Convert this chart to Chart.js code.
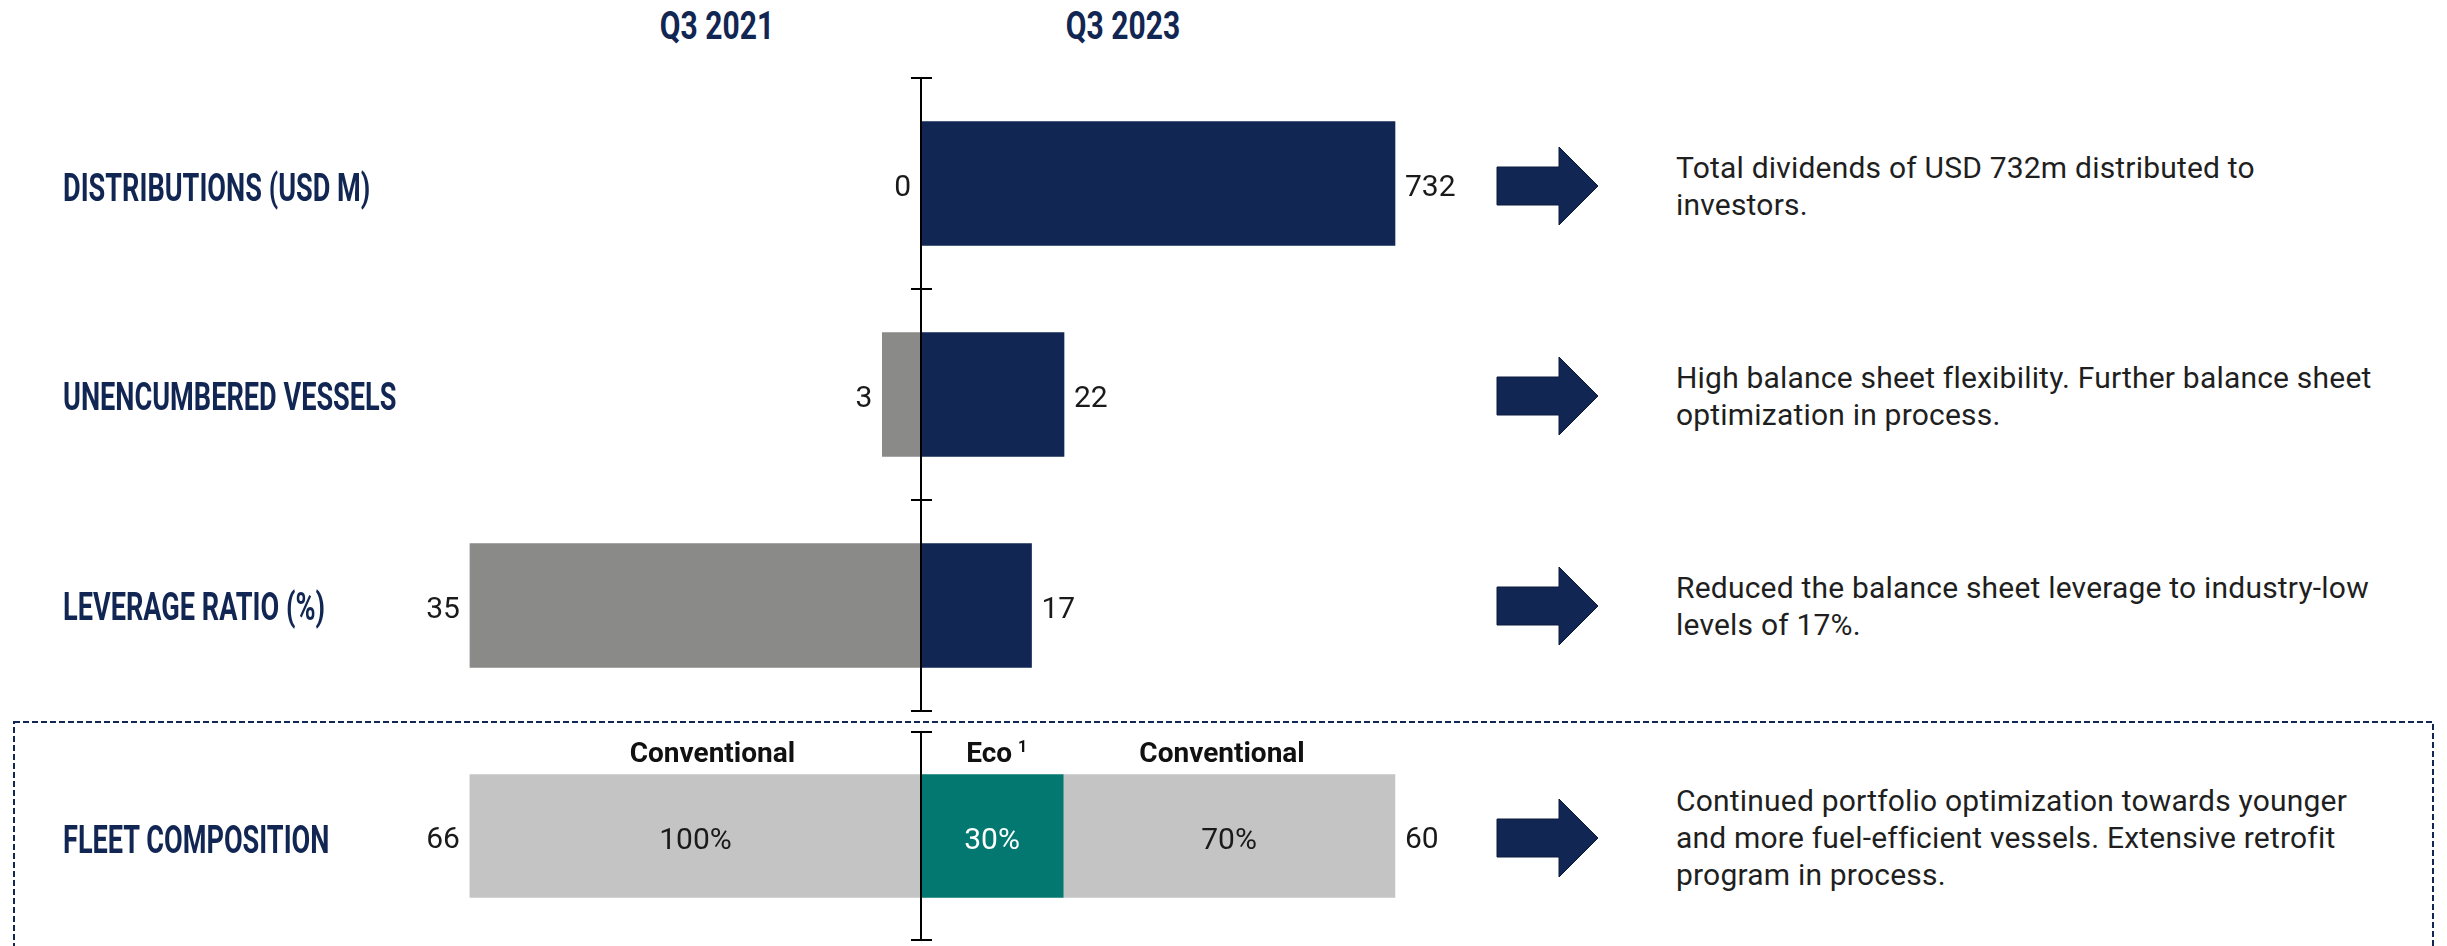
<!DOCTYPE html>
<html>
<head>
<meta charset="utf-8">
<title>Key figures Q3 2021 vs Q3 2023</title>
<script src="https://cdn.jsdelivr.net/npm/chart.js@4.4.1/dist/chart.umd.min.js"></script>
<style>
    html, body {
        margin: 0;
        padding: 0;
        background: #fff;
    }
    #page {
        position: relative;
        width: 2447px;
        height: 946px;
        overflow: hidden;
        font-family: Roboto, sans-serif;
    }
    .head {
        position: absolute;
        top: 7px;
        width: 200px;
        margin-left: -100px;
        text-align: center;
        font: 700 39px/39px Roboto, sans-serif;
        color: #112652;
        transform: scaleX(0.77);
    }
    .rowLabel {
        position: absolute;
        left: 63px;
        font: 700 38px/38px Roboto, sans-serif;
        color: #112652;
        white-space: nowrap;
        transform: scaleX(0.714);
        transform-origin: 0 0;
    }
    .desc {
        position: absolute;
        left: 1676px;
        font: 400 30px/37px Roboto, sans-serif;
        letter-spacing: 0.2px;
        color: #1f1f1f;
        white-space: nowrap;
    }
    canvas.row {
        position: absolute;
        left: 321px;
    }
    #overlay {
        position: absolute;
        left: 0;
        top: 0;
    }
</style>
</head>
<body>
<div id="page">
    <svg id="overlay" width="2447" height="946"></svg>
    <canvas class="row" id="row0" width="1200" height="217" style="top:75px;width:1200px;height:217px"></canvas>
    <canvas class="row" id="row1" width="1200" height="217" style="top:286px;width:1200px;height:217px"></canvas>
    <canvas class="row" id="row2" width="1200" height="217" style="top:497px;width:1200px;height:217px"></canvas>
    <canvas class="row" id="row3" width="1200" height="214" style="top:729px;width:1200px;height:214px"></canvas>
</div>
<script>
// ---- data ----
const periods = ["Q3 2021", "Q3 2023"];
const rowLabels = ["DISTRIBUTIONS (USD M)", "UNENCUMBERED VESSELS", "LEVERAGE RATIO (%)", "FLEET COMPOSITION"];
const valuesQ3_2021 = [0, 3, 35, 66];
const valuesQ3_2023 = [732, 22, 17, 60];

// fleet composition split, in % of the fleet
const fleetSegments2021 = ["Conventional"];
const fleetShare2021 = [100];
const fleetSegments2023 = ["Eco", "Conventional"];
const fleetShare2023 = [30, 70];

const comments = [
    ["Total dividends of USD 732m distributed to", "investors."],
    ["High balance sheet flexibility. Further balance sheet", "optimization in process."],
    ["Reduced the balance sheet leverage to industry-low", "levels of 17%."],
    ["Continued portfolio optimization towards younger", "and more fuel-efficient vessels. Extensive retrofit", "program in process."]
];

// ---- colours / layout ----
const NAVY = "#112652";
const GREY = "#8a8a89";
const LIGHT_GREY = "#c4c4c4";
const TEAL = "#037870";

const headX = [717, 1123];
const labelTops = [169, 378, 588, 821];
const descTops = [149, 359, 569, 782];
const arrowY = [186, 396, 606, 838];

// half-width axis ranges for each row (left side reversed)
const axisRanges = [
    { left: 46.56, right: 926.6 },
    { left: 46.56, right: 92.3 },
    { left: 46.56, right: 92.3 },
    { left: 133.0, right: 126.6 }
];

Chart.defaults.font.family = "Roboto";

const page = document.getElementById("page");

periods.forEach((p, i) => {
    const d = document.createElement("div");
    d.className = "head";
    d.style.left = headX[i] + "px";
    d.textContent = p;
    page.appendChild(d);
});

rowLabels.forEach((t, i) => {
    const d = document.createElement("div");
    d.className = "rowLabel";
    d.style.top = labelTops[i] + "px";
    d.textContent = t;
    page.appendChild(d);
});

comments.forEach((lines, i) => {
    const d = document.createElement("div");
    d.className = "desc";
    d.style.top = descTops[i] + "px";
    d.innerHTML = lines.join("<br>");
    page.appendChild(d);
});

// arrows and dashed box
const svgNS = "http://www.w3.org/2000/svg";
const overlay = document.getElementById("overlay");
arrowY.forEach((cy) => {
    const poly = document.createElementNS(svgNS, "polygon");
    const pts = [
        [1497, cy - 19], [1559, cy - 19], [1559, cy - 39], [1598, cy],
        [1559, cy + 39], [1559, cy + 19], [1497, cy + 19]
    ];
    poly.setAttribute("points", pts.map((p) => p.join(",")).join(" "));
    poly.setAttribute("fill", NAVY);
    poly.setAttribute("stroke", "#0b1a3c");
    poly.setAttribute("stroke-width", "1");
    overlay.appendChild(poly);
});
const box = document.createElementNS(svgNS, "rect");
box.setAttribute("x", 14);
box.setAttribute("y", 722);
box.setAttribute("width", 2419);
box.setAttribute("height", 300);
box.setAttribute("fill", "none");
box.setAttribute("stroke", NAVY);
box.setAttribute("stroke-width", 2);
box.setAttribute("stroke-dasharray", "6 3");
overlay.appendChild(box);

// axis line, ticks and labels for one row
const rowDecor = {
    id: "rowDecor",
    afterDatasetsDraw(chart, args, opts) {
        const ctx = chart.ctx;
        const area = chart.chartArea;
        const x0 = chart.scales.xr.getPixelForValue(0);

        ctx.save();
        ctx.strokeStyle = "#000";
        ctx.lineWidth = 2;
        ctx.beginPath();
        ctx.moveTo(x0, area.top);
        ctx.lineTo(x0, area.bottom);
        ctx.moveTo(x0 - 10, area.top);
        ctx.lineTo(x0 + 11, area.top);
        if (opts.bottomTick) {
            ctx.moveTo(x0 - 10, area.bottom);
            ctx.lineTo(x0 + 11, area.bottom);
        }
        ctx.stroke();

        const metas = chart.data.datasets.map((ds, i) => chart.getDatasetMeta(i).data[0]);
        const leftBar = metas[0];
        const rightBar = metas[metas.length - 1];

        ctx.font = "30px Roboto";
        ctx.fillStyle = "#1a1a1a";
        ctx.textBaseline = "alphabetic";
        ctx.textAlign = "right";
        ctx.fillText(String(opts.leftText), leftBar.x - 10, leftBar.y + 12);
        ctx.textAlign = "left";
        ctx.fillText(String(opts.rightText), rightBar.x + 10, rightBar.y + 12);

        if (opts.segments) {
            chart.data.datasets.forEach((ds, i) => {
                const el = metas[i];
                const cx = (el.x + el.base) / 2;
                const top = el.y - el.height / 2;
                ctx.textAlign = "center";
                ctx.font = "30px Roboto";
                ctx.fillStyle = ds.backgroundColor === TEAL ? "#fff" : "#1a1a1a";
                ctx.fillText(ds.data[0] + "%", cx, el.y + 13);

                // segment name sits a little off-centre in the original slide
                const hx = cx + (ds.headShift || 0);
                ctx.font = "bold 28px Roboto";
                ctx.fillStyle = "#111";
                ctx.fillText(ds.label, hx, top - 13);
                if (ds.footnote) {
                    const w = ctx.measureText(ds.label).width;
                    ctx.font = "bold 16px Roboto";
                    ctx.textAlign = "left";
                    ctx.fillText(ds.footnote, hx + w / 2 + 6, top - 23);
                }
            });
        }
        ctx.restore();
    }
};

function rowOptions(range, decor) {
    return {
        indexAxis: "y",
        responsive: false,
        devicePixelRatio: 1,
        animation: false,
        layout: { padding: { top: 3, bottom: 3, left: 0, right: 0 } },
        events: [],
        scales: {
            xl: { type: "linear", reverse: true, min: -range.left, max: range.left, display: false },
            xr: { type: "linear", min: -range.right, max: range.right, display: false, stacked: true },
            y: { display: false }
        },
        plugins: {
            legend: { display: false },
            tooltip: { enabled: false },
            rowDecor: decor
        }
    };
}

function barSet(label, value, axis, color, stack, thickness) {
    return {
        label: label,
        data: [value],
        xAxisID: axis,
        stack: stack,
        backgroundColor: color,
        borderWidth: 0,
        grouped: false,
        barThickness: thickness
    };
}

// rows 1-3: plain comparison bars
for (let i = 0; i < 3; i++) {
    new Chart(document.getElementById("row" + i), {
        type: "bar",
        data: {
            labels: [rowLabels[i]],
            datasets: [
                barSet(periods[0], valuesQ3_2021[i], "xl", GREY, "a", 124),
                barSet(periods[1], valuesQ3_2023[i], "xr", NAVY, "b", 124)
            ]
        },
        options: rowOptions(axisRanges[i], {
            leftText: valuesQ3_2021[i],
            rightText: valuesQ3_2023[i],
            bottomTick: i === 2
        }),
        plugins: [rowDecor]
    });
}

// row 4: fleet composition split by vessel type
const fleetSets = [];
fleetSegments2021.forEach((s, k) => {
    const ds = barSet(s, fleetShare2021[k], "xl", LIGHT_GREY, "a", 123);
    ds.headShift = 17;
    fleetSets.push(ds);
});
fleetSegments2023.forEach((s, k) => {
    const ds = barSet(s, fleetShare2023[k], "xr", s === "Eco" ? TEAL : LIGHT_GREY, "b", 123);
    if (s === "Eco") {
        ds.footnote = "1";
        ds.headShift = -3;
    } else {
        ds.headShift = -7;
    }
    fleetSets.push(ds);
});
new Chart(document.getElementById("row3"), {
    type: "bar",
    data: { labels: [rowLabels[3]], datasets: fleetSets },
    options: rowOptions(axisRanges[3], {
        leftText: valuesQ3_2021[3],
        rightText: valuesQ3_2023[3],
        bottomTick: true,
        segments: true
    }),
    plugins: [rowDecor]
});
</script>
</body>
</html>
